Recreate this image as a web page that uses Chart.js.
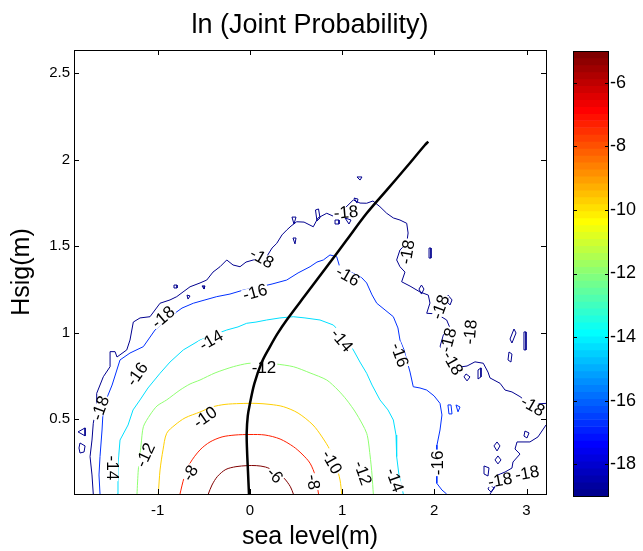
<!DOCTYPE html>
<html>
<head>
<meta charset="utf-8">
<title>ln (Joint Probability)</title>
<script src="https://cdn.jsdelivr.net/npm/chart.js@4/dist/chart.umd.min.js"></script>
<style>
  html, body { margin: 0; padding: 0; background: #fff; }
  #wrap { position: relative; width: 643px; height: 551px; }
  #contourChart { position: absolute; left: 0; top: 0; }
  #colorbar { position: absolute; left: 560px; top: 0; }
</style>
</head>
<body>
<div id="wrap">
  <canvas id="contourChart" width="643" height="551"></canvas>
  <canvas id="colorbar" width="83" height="551"></canvas>
</div>
<script>
// axis ranges and tick labels
const xRange = [-1.906, 3.211];
const yRange = [0.068, 2.635];
const xTicks = [-1, 0, 1, 2, 3];
const yTicks = [0.5, 1, 1.5, 2, 2.5];
const cbRange = [-18, -6];
const cbTicks = [-18, -16, -14, -12, -10, -8, -6];

// contour lines of ln(joint probability), [sea level, Hsig]
const contourM6 = [[-0.45,0.068],[-0.41,0.12],[-0.35,0.17],[-0.26,0.21],[-0.15,0.226],[-0.03,0.232],[0.07,0.232],[0.17,0.224],[0.27,0.2],[0.37,0.16],[0.44,0.11],[0.472,0.068]];
const contourM8 = [[-0.757,0.068],[-0.713,0.161],[-0.648,0.246],[-0.54,0.323],[-0.431,0.369],[-0.301,0.398],[-0.16,0.409],[0.002,0.412],[0.165,0.409],[0.328,0.386],[0.472,0.342],[0.566,0.299],[0.653,0.246],[0.71,0.172],[0.745,0.068]];
const contourM10 = [[-0.992,0.068],[-0.973,0.207],[-0.941,0.323],[-0.901,0.419],[-0.811,0.467],[-0.702,0.508],[-0.54,0.542],[-0.41,0.571],[-0.269,0.586],[-0.106,0.591],[0.067,0.592],[0.219,0.586],[0.363,0.573],[0.523,0.536],[0.685,0.467],[0.783,0.398],[0.869,0.323],[0.934,0.236],[0.978,0.149],[0.996,0.068]];
const contourM12 = [[-1.223,0.068],[-1.209,0.207],[-1.179,0.351],[-1.154,0.457],[-1.082,0.525],[-1.006,0.577],[-0.901,0.612],[-0.757,0.669],[-0.648,0.704],[-0.54,0.727],[-0.377,0.768],[-0.179,0.804],[-0.02,0.823],[0.111,0.824],[0.273,0.82],[0.472,0.804],[0.653,0.768],[0.834,0.727],[0.956,0.669],[1.05,0.612],[1.151,0.536],[1.267,0.419],[1.303,0.294],[1.325,0.178],[1.339,0.068]];
const contourM14 = [[-1.436,0.068],[-1.429,0.236],[-1.407,0.38],[-1.32,0.467],[-1.266,0.554],[-1.19,0.612],[-1.104,0.681],[-0.973,0.766],[-0.865,0.831],[-0.721,0.901],[-0.54,0.958],[-0.399,0.987],[-0.25,1.016],[-0.128,1.034],[-0.034,1.055],[0.067,1.062],[0.183,1.074],[0.327,1.086],[0.472,1.093],[0.598,1.086],[0.761,1.074],[0.905,1.045],[1.032,0.976],[1.122,0.901],[1.194,0.831],[1.267,0.766],[1.325,0.698],[1.411,0.612],[1.498,0.554],[1.556,0.496],[1.585,0.409],[1.592,0.284],[1.617,0.178],[1.664,0.068]];
const contourM16 = [[-1.624,0.068],[-1.635,0.178],[-1.624,0.284],[-1.602,0.438],[-1.588,0.573],[-1.537,0.64],[-1.493,0.698],[-1.407,0.843],[-1.299,0.883],[-1.154,0.92],[-1.028,1.016],[-0.865,1.093],[-0.735,1.143],[-0.612,1.171],[-0.486,1.19],[-0.359,1.209],[-0.215,1.224],[-0.07,1.247],[0.111,1.266],[0.241,1.282],[0.4,1.305],[0.523,1.346],[0.653,1.382],[0.728,1.409],[0.797,1.421],[0.869,1.45],[0.942,1.44],[0.978,1.375],[1.043,1.363],[1.122,1.344],[1.216,1.317],[1.267,1.288],[1.325,1.219],[1.376,1.171],[1.466,1.132],[1.556,1.093],[1.606,1.028],[1.628,0.958],[1.672,0.901],[1.701,0.843],[1.737,0.773],[1.772,0.688],[1.845,0.681],[1.918,0.669],[1.998,0.635],[2.062,0.592],[2.083,0.525],[2.062,0.438],[2.029,0.351],[2.026,0.284],[2.029,0.207],[2.026,0.13],[2.083,0.091],[2.134,0.068]];
const contourM18 = [[-1.697,0.068],[-1.711,0.178],[-1.732,0.284],[-1.711,0.38],[-1.697,0.477],[-1.66,0.583],[-1.66,0.65],[-1.588,0.746],[-1.515,0.804],[-1.515,0.891],[-1.461,0.891],[-1.44,0.86],[-1.334,0.901],[-1.299,0.958],[-1.263,1.062],[-1.19,1.086],[-1.082,1.093],[-0.973,1.171],[-0.865,1.19],[-0.792,1.209],[-0.724,1.236],[-0.648,1.266],[-0.54,1.288],[-0.467,1.305],[-0.399,1.351],[-0.323,1.382],[-0.25,1.421],[-0.182,1.392],[-0.106,1.382],[-0.041,1.409],[0.038,1.421],[0.183,1.44],[0.241,1.49],[0.292,1.517],[0.349,1.566],[0.4,1.594],[0.447,1.617],[0.508,1.642],[0.588,1.64],[0.688,1.613],[0.739,1.664],[0.834,1.691],[0.902,1.675],[0.978,1.691],[1.043,1.727],[1.122,1.768],[1.195,1.75],[1.267,1.749],[1.335,1.762],[1.411,1.729],[1.484,1.691],[1.556,1.664],[1.628,1.652],[1.701,1.633],[1.716,1.577],[1.701,1.517],[1.628,1.479],[1.592,1.421],[1.628,1.382],[1.682,1.351],[1.646,1.295],[1.737,1.27],[1.845,1.236],[1.935,1.218],[1.953,1.172],[1.918,1.113],[2.026,1.109],[2.134,1.074],[2.17,1.028],[2.098,0.987],[2.062,0.92],[2.134,0.889],[2.192,0.825],[2.279,0.802],[2.355,0.808],[2.441,0.832],[2.531,0.824],[2.582,0.773],[2.604,0.739],[2.713,0.708],[2.767,0.669],[2.842,0.658],[2.929,0.631],[3.005,0.6],[3.092,0.588],[3.211,0.592]];
const contourM18corner = [[3.211,0.467],[3.124,0.398],[3.037,0.369],[2.897,0.369],[2.875,0.328],[2.929,0.299],[2.853,0.253],[2.842,0.218],[2.767,0.195],[2.69,0.178],[2.625,0.149],[2.658,0.109],[2.604,0.068]];

// small closed contours scattered around the fringe
const islandsM18 = [
  [[-1.862,0.427],[-1.786,0.45],[-1.786,0.404],[-1.862,0.427]],
  [[-1.841,0.363],[-1.786,0.346],[-1.797,0.311],[-1.841,0.305],[-1.852,0.334],[-1.841,0.363]],
  [[0.457,1.669],[0.501,1.669],[0.479,1.629],[0.457,1.669]],
  [[0.468,1.548],[0.501,1.548],[0.49,1.514],[0.468,1.548]],
  [[0.712,1.71],[0.745,1.716],[0.761,1.664],[0.728,1.647],[0.712,1.71]],
  [[0.924,1.652],[0.967,1.652],[0.967,1.629],[0.924,1.629],[0.924,1.652]],
  [[1.032,1.664],[1.097,1.652],[1.075,1.629],[1.032,1.664]],
  [[1.13,1.779],[1.173,1.773],[1.162,1.75],[1.13,1.779]],
  [[1.162,1.901],[1.216,1.901],[1.195,1.883],[1.162,1.901]],
  [[1.943,1.49],[1.964,1.49],[1.964,1.432],[1.943,1.432],[1.943,1.49]],
  [[1.861,1.276],[1.888,1.253],[1.861,1.224],[1.834,1.253],[1.861,1.276]],
  [[2.148,1.218],[2.192,1.19],[2.171,1.161],[2.138,1.179],[2.148,1.218]],
  [[2.864,1.022],[2.886,0.999],[2.842,0.941],[2.821,0.964],[2.864,1.022]],
  [[2.81,0.889],[2.842,0.877],[2.831,0.831],[2.799,0.843],[2.81,0.889]],
  [[2.972,1.005],[2.994,1.005],[2.994,0.901],[2.972,0.901],[2.972,1.005]],
  [[2.474,0.785],[2.506,0.797],[2.506,0.745],[2.474,0.733],[2.474,0.785]],
  [[2.344,0.762],[2.387,0.745],[2.355,0.722],[2.322,0.745],[2.344,0.762]],
  [[2.68,0.369],[2.712,0.346],[2.68,0.317],[2.647,0.346],[2.68,0.369]],
  [[2.69,0.288],[2.723,0.265],[2.69,0.242],[2.658,0.265],[2.69,0.288]],
  [[2.983,0.432],[3.027,0.421],[3.005,0.392],[2.972,0.403],[2.983,0.432]],
  [[2.539,0.23],[2.593,0.219],[2.582,0.172],[2.539,0.184],[2.539,0.23]],
  [[2.604,0.12],[2.647,0.103],[2.615,0.08],[2.582,0.097],[2.604,0.12]],
  [[-0.822,1.276],[-0.789,1.276],[-0.789,1.259],[-0.822,1.259],[-0.822,1.276]],
  [[-0.681,1.218],[-0.648,1.213],[-0.67,1.195],[-0.681,1.218]],
  [[-0.518,1.271],[-0.486,1.271],[-0.496,1.253],[-0.518,1.271]]
];
const islandsM16 = [
  [[2.148,0.583],[2.181,0.583],[2.192,0.531],[2.159,0.531],[2.148,0.583]],
  [[2.235,0.583],[2.279,0.571],[2.257,0.543],[2.235,0.583]]
];

// most probable Hsig for each sea level
const modeCurve = [[-0.009,0.068],[-0.02,0.2],[-0.03,0.32],[-0.034,0.419],[-0.022,0.52],[0.002,0.592],[0.05,0.708],[0.13,0.83],[0.219,0.92],[0.3,0.995],[0.4,1.074],[0.617,1.228],[0.834,1.382],[1.05,1.536],[1.267,1.691],[1.484,1.825],[1.701,1.96],[1.899,2.086],[1.935,2.105]];

// inline contour labels: [level, x, y, angle in degrees]
const contourLabels = [
  [-18, 1.043, 1.698, -5], [-18, 0.132, 1.433, 30], [-18, -0.941, 1.091, -40], [-18, -1.624, 0.565, -70],
  [-16, 0.056, 1.236, -15], [-16, 1.064, 1.329, 30], [-16, -1.223, 0.762, -55], [-16, 1.628, 0.872, 70], [-16, 2.029, 0.248, -90],
  [-14, -0.421, 0.958, -30], [-14, 0.999, 0.958, 50], [-14, -1.482, 0.219, 90], [-14, 1.574, 0.149, 70],
  [-12, 0.154, 0.802, 0], [-12, -1.136, 0.294, -65], [-12, 1.227, 0.19, 70],
  [-10, -0.486, 0.513, -35], [-10, 0.891, 0.253, 60],
  [-8, -0.648, 0.19, -60], [-8, 0.691, 0.137, 80],
  [-6, 0.273, 0.178, 45],
  [-18, 3.07, 0.577, 30], [-18, 2.713, 0.149, -10], [-18, 3.005, 0.19, -10],
  [-18, 1.704, 1.467, -80], [-18, 2.062, 1.149, -70], [-18, 2.387, 1.005, -85], [-18, 2.149, 0.958, -75], [-18, 2.203, 0.825, 60]
];

const FONT = "Helvetica, 'Liberation Sans', Arial, sans-serif";
Chart.defaults.font.family = FONT;
Chart.defaults.color = '#000';

// matlab style jet(64) colormap, row index 1..64
function jetRow(i) {
  const u = k => (k < 1 || k > 47) ? 0 : (k <= 16 ? k / 16 : (k <= 31 ? 1 : (48 - k) / 16));
  const c = v => Math.round(v * 255);
  return `rgb(${c(u(i - 24))},${c(u(i - 8))},${c(u(i + 8))})`;
}
const NCOL = 64;
function levelColor(level) {
  const t = (level - cbRange[0]) / (cbRange[1] - cbRange[0]);
  return jetRow(Math.min(NCOL, Math.floor(t * NCOL) + 1));
}

const toXY = pts => pts.map(([x, y]) => ({ x, y }));
const lineStyle = { showLine: true, pointRadius: 0, fill: false };

const contourLines = [
  [-6, contourM6, 0.3], [-8, contourM8, 0.3], [-10, contourM10, 0.3], [-12, contourM12, 0.25],
  [-14, contourM14, 0], [-16, contourM16, 0], [-18, contourM18, 0], [-18, contourM18corner, 0]
];
islandsM18.forEach(p => contourLines.push([-18, p, 0]));
islandsM16.forEach(p => contourLines.push([-16, p, 0]));

// dataset 0 is drawn last, so the black curve sits on top
const datasets = [{ ...lineStyle, data: toXY(modeCurve), borderColor: '#000', borderWidth: 2.5, tension: 0.35 }];
contourLines.forEach(([level, pts, smooth]) => {
  datasets.push({ ...lineStyle, data: toXY(pts), borderColor: levelColor(level), borderWidth: 1, tension: smooth });
});

function drawContourLabels(chart) {
  const { ctx, chartArea, scales: { x, y } } = chart;
  ctx.save();
  ctx.beginPath();
  ctx.rect(chartArea.left, chartArea.top, chartArea.right - chartArea.left, chartArea.bottom - chartArea.top);
  ctx.clip();
  ctx.font = `17px ${FONT}`;
  ctx.textAlign = 'center';
  ctx.textBaseline = 'middle';
  contourLabels.forEach(([level, lx, ly, ang]) => {
    const txt = String(level);
    const w = ctx.measureText(txt).width;
    ctx.save();
    ctx.translate(x.getPixelForValue(lx), y.getPixelForValue(ly));
    ctx.rotate(ang * Math.PI / 180);
    ctx.fillStyle = '#fff';
    ctx.fillRect(-w / 2 - 1, -5, w + 2, 10);
    ctx.fillStyle = '#000';
    ctx.fillText(txt, 0, 1);
    ctx.restore();
  });
  ctx.restore();
}

// box around the axes with inward ticks on all four sides
const axesBox = {
  id: 'axesBox',
  beforeDatasetDraw(chart, args) {
    if (args.index === 0) drawContourLabels(chart);
  },
  afterDraw(chart) {
    const { ctx, chartArea: a, scales: { x, y } } = chart;
    const tl = 5;
    ctx.save();
    ctx.strokeStyle = '#000';
    ctx.lineWidth = 1;
    ctx.strokeRect(Math.round(a.left) + 0.5, Math.round(a.top) + 0.5, Math.round(a.right - a.left), Math.round(a.bottom - a.top));
    ctx.beginPath();
    xTicks.forEach(v => {
      const px = Math.round(x.getPixelForValue(v)) + 0.5;
      ctx.moveTo(px, a.bottom); ctx.lineTo(px, a.bottom - tl);
      ctx.moveTo(px, a.top); ctx.lineTo(px, a.top + tl);
    });
    yTicks.forEach(v => {
      const py = Math.round(y.getPixelForValue(v)) + 0.5;
      ctx.moveTo(a.left, py); ctx.lineTo(a.left + tl, py);
      ctx.moveTo(a.right, py); ctx.lineTo(a.right - tl, py);
    });
    ctx.stroke();
    ctx.restore();
  }
};

new Chart(document.getElementById('contourChart'), {
  type: 'scatter',
  data: { datasets },
  options: {
    responsive: false,
    animation: false,
    events: [],
    layout: { padding: { left: 0, right: 97, top: 0, bottom: 0 } },
    plugins: {
      legend: { display: false },
      tooltip: { enabled: false },
      title: {
        display: true,
        text: 'ln (Joint Probability)',
        fullSize: false,
        color: '#000',
        font: { size: 27, weight: 'normal', lineHeight: 1 },
        padding: { top: 12, bottom: 11 }
      }
    },
    scales: {
      x: {
        type: 'linear',
        min: xRange[0],
        max: xRange[1],
        afterBuildTicks: s => { s.ticks = xTicks.map(v => ({ value: v })); },
        afterFit: s => { s.height = 57; },
        grid: { display: false, drawTicks: false },
        border: { display: false },
        ticks: { font: { size: 15 }, padding: 8, maxRotation: 0, autoSkip: false, callback: v => String(v) },
        title: { display: true, text: 'sea level(m)', font: { size: 25, lineHeight: 1 }, padding: { top: 0, bottom: 1 } }
      },
      y: {
        type: 'linear',
        min: yRange[0],
        max: yRange[1],
        afterBuildTicks: s => { s.ticks = yTicks.map(v => ({ value: v })); },
        afterFit: s => { s.width = 74; },
        grid: { display: false, drawTicks: false },
        border: { display: false },
        ticks: { font: { size: 15 }, padding: 4, autoSkip: false, callback: v => String(v) },
        title: { display: true, text: 'Hsig(m)', font: { size: 25, lineHeight: 1 }, padding: { top: 10, bottom: 0 } }
      }
    }
  },
  plugins: [axesBox]
});

// colour bar: one horizontal band per colormap row
const cbBands = Array.from({ length: NCOL }, (_, i) => i + 1);
const cbFrame = {
  id: 'cbFrame',
  afterDraw(chart) {
    const { ctx, chartArea: a } = chart;
    const s = chart.scales.yCb;
    ctx.save();
    ctx.strokeStyle = '#000';
    ctx.lineWidth = 1;
    ctx.strokeRect(Math.round(a.left) + 0.5, Math.round(a.top) + 0.5, Math.round(a.right - a.left) - 1, Math.round(a.bottom - a.top));
    ctx.beginPath();
    cbTicks.forEach(v => {
      const py = Math.round(s.getPixelForValue(v)) + 0.5;
      ctx.moveTo(a.left, py); ctx.lineTo(a.left + 4, py);
      ctx.moveTo(a.right, py); ctx.lineTo(a.right - 4, py);
    });
    ctx.stroke();
    ctx.restore();
  }
};

new Chart(document.getElementById('colorbar'), {
  type: 'bar',
  data: {
    labels: cbBands,
    datasets: [{
      data: cbBands.map(() => 1),
      backgroundColor: cbBands.map(jetRow),
      borderWidth: 0,
      categoryPercentage: 1,
      barPercentage: 1
    }]
  },
  options: {
    indexAxis: 'y',
    responsive: false,
    animation: false,
    events: [],
    layout: { padding: { left: 13, right: 0, top: 51, bottom: 55 } },
    plugins: { legend: { display: false }, tooltip: { enabled: false }, title: { display: false } },
    scales: {
      x: { display: false, min: 0, max: 1 },
      y: { display: false, reverse: true },
      yCb: {
        type: 'linear',
        position: 'right',
        min: cbRange[0],
        max: cbRange[1],
        afterBuildTicks: s => { s.ticks = cbTicks.map(v => ({ value: v })); },
        afterFit: s => { s.width = 34; },
        grid: { display: false, drawTicks: false },
        border: { display: false },
        ticks: { font: { size: 18 }, padding: 1, callback: v => String(v) }
      }
    }
  },
  plugins: [cbFrame]
});
</script>
</body>
</html>
